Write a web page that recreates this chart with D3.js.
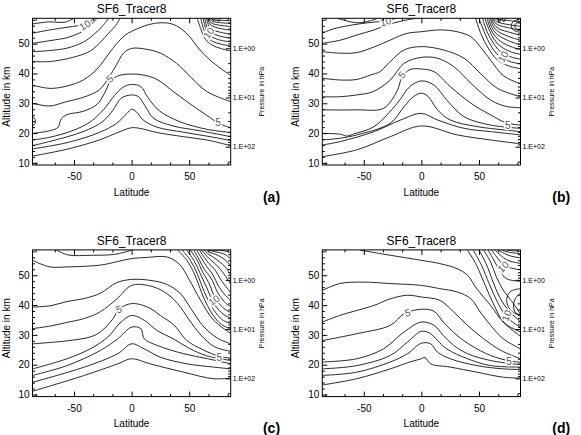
<!DOCTYPE html>
<html lang="en">
<head>
<meta charset="UTF-8">
<title>SF6_Tracer8</title>
<script src="https://d3js.org/d3.v7.min.js"></script>
<style>
  body { margin: 0; background: #fff; }
  text { font-family: "Liberation Sans", Arial, Helvetica, sans-serif; fill: #000; }
</style>
</head>
<body>
<script>
// ---- data (lat, altitude km) ----
const panelNames = ["(a)", "(b)", "(c)", "(d)"];
const titleText = "SF6_Tracer8";
const altTicks = [10, 20, 30, 40, 50];
const latTicks = [-50, 0, 50];
const pressTicks = [1, 10, 100];
const pressLabels = ["1.E+00", "1.E+01", "1.E+02"];

const linesA = [
  [[-86,12.3],[-56,14.6],[-28,17.7],[-10,20.5],[0,21.8],[7,21.6],[22,20.2],[45,18.8],[65,17.7],[86,15.8]],
  [[-86,14.7],[-56,16.8],[-28,20.2],[-13,23.3],[-4,26.6],[0,28.0],[4,27.2],[10,24.4],[22,22.0],[45,20.3],[71,18.6],[86,17.5]],
  [[-86,15.8],[-71,17.2],[-42,20.5],[-25,23.9],[-16,27.8],[-9,31.7],[0,32.8],[6,32.2],[12,28.9],[19,25.0],[36,22.4],[59,20.8],[86,18.8]],
  [[-86,17.7],[-71,18.6],[-50,21.0],[-35,24.0],[-24,28.0],[-15,32.5],[-7,35.5],[0,36.3],[8,35.6],[14,32.0],[24,27.5],[42,23.8],[65,21.3],[86,20.2]],
  [[-86,19.9],[-71,20.8],[-64,21.9],[-61,24.8],[-56,26.2],[-42,27.3],[-30,29.6],[-24,33.0],[-18,37.5],[-11,39.3],[0,39.8],[10,39.5],[22,38.0],[36,34.0],[50,30.0],[65,26.0],[76,23.2],[86,21.8]],
  [[-86,30.0],[-71,29.1],[-57,30.5],[-42,32.0],[-28,34.5],[-20,38.5],[-13,43.0],[-7,46.8],[0,48.4],[13,48.1],[25,46.8],[39,43.4],[52,38.5],[65,34.0],[86,30.5]],
  [[-86,36.1],[-71,35.0],[-56,35.8],[-42,37.8],[-30,41.5],[-20,46.5],[-13,50.0],[-5,53.0],[5,55.0],[15,56.4],[25,57.0],[35,56.6],[43,55.0],[50,52.5],[58,48.5],[68,44.5],[86,39.3]],
  [[-86,44.0],[-71,44.0],[-51,45.4],[-36,47.5],[-27,50.5],[-20,53.5],[-14,56.0],[-10,58.5]],
  [[-86,47.3],[-71,47.7],[-56,48.5],[-42,50.5],[-33,53.0],[-25,56.0],[-20,58.5]],
  [[-86,50.1],[-71,51.0],[-56,52.0],[-45,53.6],[-37,55.8],[-30,58.5]],
  [[-86,53.5],[-71,54.6],[-56,55.5],[-47,56.0],[-40,56.6],[-35,57.7],[-32,58.5]],
  [[-86,56.6],[-72,57.3],[-58,57.2],[-50,58.5]],
  [[-86,25.3],[-84.5,25.0],[-83.5,24.0],[-84.5,22.8],[-86,22.6]]
];
const clusterA = [
  [[57,58.5],[60,55],[64,51.5],[70,49.5],[78,48.3],[86,47.5]],
  [[60,58.5],[62,55.5],[65,52.5],[70,50.8],[78,49.8],[86,49.2]],
  [[62,58.5],[64,55.5],[67,53],[72,51.8],[79,51],[86,50.6]],
  [[63.5,58.5],[65.5,55.5],[68,54],[73,53],[80,52.2],[86,51.9]],
  [[65,58.5],[67,56],[70,54.8],[75,54],[86,53.2]],
  [[66,58.5],[68,56.5],[72,55.6],[78,55],[86,54.5]],
  [[67,58.5],[69,57],[73,56.4],[80,56],[86,55.7]],
  [[68,58.5],[70,57.5],[75,57.1],[86,56.8]],
  [[69,58.5],[72,57.9],[80,57.8],[86,57.7]],
  [[70,58.5],[71,57.6],[73,58.5]],
  [[74,58.5],[75.5,57.5],[77,58.5]]
];
const labelsA = [["10",-40.5,56.2,-30],["5",-19,38.2,-45],["5",75,23.4,0],["10",67,53.6,-55]];

const linesB = [
  [[-86,12.1],[-56,14.4],[-27,18.8],[0,22.4],[31,19.4],[60,17.7],[86,16.4]],
  [[-86,16.0],[-70,17.2],[-41,20.5],[-18,24.4],[0,26.6],[14,24.4],[37,21.6],[60,20.5],[86,19.4]],
  [[-86,17.7],[-70,18.3],[-56,19.4],[-27,23.3],[-15,28.9],[-7,32.2],[0,33.4],[6,32.2],[14,27.8],[25,24.4],[48,22.2],[71,21.1],[86,20.5]],
  [[-86,19.9],[-70,19.6],[-65,19.0],[-58,19.8],[-41,22.2],[-21,30.0],[-10,35.6],[0,37.5],[11,36.1],[22,31.1],[37,25.5],[60,22.7],[86,21.6]],
  [[-86,27.8],[-56,27.8],[-33,28.3],[-21,34.2],[-17,38.6],[-10,41.3],[0,41.5],[11,40.6],[25,35.6],[43,30.0],[60,26.1],[74,23.4],[86,22.7]],
  [[-86,32.2],[-71,32.2],[-56,32.8],[-42,33.9],[-27,37.8],[-15,43.4],[0,45.4],[14,45.1],[28,42.3],[43,36.7],[60,31.1],[73,29.0],[86,28.5]],
  [[-86,38.4],[-70,37.8],[-56,38.0],[-44,39.5],[-36,40.6],[-27,44.0],[-15,47.9],[0,49.0],[19,47.9],[37,45.1],[51,40.1],[66,35.0],[86,32.2]],
  [[-86,47.3],[-70,46.8],[-56,47.0],[-41,48.9],[-27,51.2],[-13,53.4],[0,54.0],[16,54.6],[31,54.0],[43,52.3],[51,49.0],[60,44.5],[71,39.3],[86,36.5]],
  [[-86,50.1],[-70,51.2],[-56,52.9],[-41,54.6],[-27,56.6],[-12,58.0],[-4,58.5]],
  [[-86,53.5],[-76,55.0],[-56,56.5],[-42,57.2],[-31,57.6],[-22,58.5]],
  [[-73,58.5],[-56,57.0],[-44,57.7],[-38,58.5]]
];
const clusterB = [
  [[47,58.5],[52,53],[58,48.5],[66,44.5],[76,42.5],[86,41.6]],
  [[50,58.5],[55,53.5],[60,49.5],[67,46],[77,44],[86,43.2]],
  [[53,58.5],[57,54],[62,50.5],[68,47.5],[78,45.5],[86,44.8]],
  [[55,58.5],[59,54.5],[63,51.5],[69,49],[78,47.2],[86,46.4]],
  [[57,58.5],[60,55],[64,52.5],[70,50.4],[79,48.8],[86,48]],
  [[58.5,58.5],[61,55.5],[65,53.3],[71,51.8],[80,50.3],[86,49.6]],
  [[60,58.5],[62,56],[66,54.2],[72,53],[80,51.8],[86,51.2]],
  [[61,58.5],[63,56.5],[67,55],[73,54.2],[86,52.8]],
  [[62,58.5],[64,57],[68,56],[75,55.4],[86,54.3]],
  [[63,58.5],[65,57.5],[70,56.8],[86,55.8]],
  [[64,58.5],[67,58],[75,57.8],[86,57.2]],
  [[86,58.2],[80,57.5],[78,56],[80,54.5],[86,53.8]],
  [[86,57.5],[82,56.8],[81,55.8],[82,55],[86,54.6]],
  [[66,58.5],[67.5,57],[69,58.5]],
  [[70,58.5],[71.5,57.3],[73,58.5]]
];
const labelsB = [["10",-31,57.4,-15],["5",-17,39.5,-50],["5",75,22.6,0],["10",71,45.6,-60]];

const linesC = [
  [[-86,11.1],[-41,16.4],[-12,20.3],[0,22.0],[16,20.3],[45,17.5],[71,15.3],[86,15.5]],
  [[-86,14.1],[-41,19.2],[-12,23.7],[0,27.0],[11,25.3],[25,22.5],[48,20.3],[71,19.2],[86,18.6]],
  [[-86,16.4],[-56,19.7],[-27,24.8],[-12,28.7],[0,32.6],[8,32.1],[11,28.7],[22,26.5],[45,23.7],[66,22.0],[86,20.3]],
  [[-86,18.6],[-56,22.0],[-35,25.5],[-20,29.5],[-10,34.0],[0,36.5],[11,34.9],[22,31.5],[37,28.5],[50,25.5],[65,23.0],[86,21.4]],
  [[-86,27.0],[-56,28.0],[-36,29.3],[-27,31.0],[-16,35.5],[-11,38.6],[0,40.5],[14,39.3],[25,36.5],[37,33.2],[48,28.1],[62,25.0],[76,22.8],[86,22.2]],
  [[-86,32.1],[-70,33.0],[-56,34.2],[-41,35.5],[-27,37.8],[-13,42.0],[0,46.6],[14,46.6],[28,44.5],[40,40.5],[50,35.0],[60,30.0],[72,26.0],[86,24.5]],
  [[-86,39.3],[-70,39.8],[-56,41.2],[-41,42.2],[-27,44.0],[-13,47.5],[0,48.6],[16,48.3],[30,47.0],[42,44.0],[52,38.5],[62,33.0],[74,29.0],[86,27.0]],
  [[-86,55.0],[-71,52.8],[-56,52.8],[-27,53.4],[-12,54.6],[0,55.6],[14,56.0],[31,56.1],[42,53.5],[50,48.5],[60,41.5],[71,35.0],[86,30.5]],
  [[-65,58.4],[-55,56.8],[-35,56.7],[-15,57.0],[0,58.4]]
];
const clusterC = [
  [[40,58.4],[48,55],[55,50],[62,43],[70,37],[78,33.5],[86,32.0]],
  [[44,58.4],[51,55],[57,50.5],[63,44.5],[71,38.5],[79,35],[86,33.8]],
  [[48,58.4],[54,55],[59,51],[65,46],[72,40.2],[80,36.8],[86,35.6]],
  [[51,58.4],[57,55],[61,51.5],[67,47.5],[73,42],[81,38.6],[86,37.5]],
  [[54,58.4],[59,55],[63,52],[69,49],[75,44],[82,40.5],[86,39.5]],
  [[56.5,58.4],[61,55.5],[65,53],[70,50.5],[76,46],[83,42.6],[86,41.7]],
  [[59,58.4],[63,56],[67,54],[72,52],[78,48.2],[86,44.2]],
  [[61,58.4],[65,56.5],[69,55],[74,53.3],[80,50.5],[86,47]],
  [[63,58.4],[67,57],[71,56],[76,54.6],[82,52.5],[86,50]],
  [[65,58.4],[69,57.5],[73,57],[78,56],[83,54.5],[86,52.8]],
  [[67,58.4],[71,58],[76,57.6],[81,57],[86,55.5]],
  [[70,58.4],[77,58.3],[83,58],[86,57.5]]
];
const labelsC = [["5",-11,38.6,-20],["5",76,22.3,0],["10",71.5,41.6,-35]];

const linesD = [
  [[-86,13.2],[-56,15.3],[-27,18.6],[-10,20.9],[0,22.0],[3,22.4],[8,20.3],[25,19.2],[48,17.5],[71,15.8],[86,15.5]],
  [[-86,16.4],[-56,17.5],[-27,20.9],[-12,23.7],[0,27.2],[8,27.0],[14,24.2],[25,22.0],[48,19.7],[71,18.6],[86,18.4]],
  [[-86,18.6],[-56,19.7],[-27,23.1],[-12,27.6],[0,31.2],[8,30.4],[14,28.1],[22,25.3],[40,22.0],[60,19.7],[86,19.2]],
  [[-86,20.9],[-56,22.0],[-33,25.3],[-15,31.0],[0,34.3],[11,33.2],[19,29.8],[28,26.5],[40,23.7],[60,21.4],[86,20.0]],
  [[-86,28.1],[-56,30.4],[-27,33.2],[-15,37.1],[0,38.6],[11,37.9],[19,34.3],[31,29.8],[43,26.5],[60,23.1],[76,21.3],[86,20.8]],
  [[-86,34.3],[-71,36.5],[-41,39.9],[-27,42.1],[-12,43.3],[0,42.7],[16,41.6],[28,37.7],[40,33.2],[54,28.7],[69,24.8],[86,22.0]],
  [[-86,44.9],[-71,47.2],[-50,47.7],[-27,47.2],[0,46.6],[16,45.5],[31,44.4],[43,42.1],[51,37.7],[60,33.2],[71,28.7],[86,25.3]],
  [[-53,58.4],[-27,56.7],[0,55.0],[16,53.9],[31,52.2],[40,50.0],[48,45.5],[60,39.9],[71,34.3],[86,29.5]]
];
const clusterD = [
  [[40,58.4],[47,54],[55,47],[63,40],[72,34],[86,31]],
  [[45,58.4],[52,53.5],[59,47],[66,41],[74,36],[86,32.5]],
  [[50,58.4],[56,54],[62,48],[68,42.5],[76,38],[86,34.5]],
  [[54,58.4],[60,54.5],[65,49.5],[71,45],[78,41.5],[86,37]],
  [[58,58.4],[63,55],[68,51.5],[74,48.8],[86,48.0]],
  [[61,58.4],[66,55.8],[71,53.5],[77,52.5],[86,51.8]],
  [[64,58.4],[69,56.6],[74,55.2],[80,54.4],[86,54]],
  [[67,58.4],[72,57.3],[77,56.5],[86,55.8]],
  [[70,58.4],[75,57.8],[86,57.2]],
  [[74,58.4],[80,58.2],[86,58]],
  [[86,45.5],[77,44.5],[74,41.5],[77,38.5],[86,36.2]],
  [[86,44],[82,42.5],[80,40],[81.5,37.5],[86,36.8]]
];
const labelsD = [["5",-12,37.4,-10],["5",76,21.1,0],["10",71,52.8,-45],["10",74,36.5,-70]];

const panels = [
  {name: panelNames[0], lines: linesA.concat(clusterA), labels: labelsA, dx: 0, dy: 0},
  {name: panelNames[1], lines: linesB.concat(clusterB), labels: labelsB, dx: 289.8, dy: 0},
  {name: panelNames[2], lines: linesC.concat(clusterC), labels: labelsC, dx: 0, dy: 231.6},
  {name: panelNames[3], lines: linesD.concat(clusterD), labels: labelsD, dx: 289.8, dy: 231.6}
];

// ---- layout ----
const W = 581, H = 435;
const plotLeft = 32.5, plotTop = 18.3, pw = 198.2, ph = 146.7;

const svg = d3.select("body").append("svg")
  .attr("width", W).attr("height", H);

const x = d3.scaleLinear().domain([-86, 86]).range([0, pw]);
const y = d3.scaleLinear().domain([9.3, 58.5]).range([ph, 0]);
const p = d3.scaleLog().domain([235, 0.246]).range([ph, 0]);

const line = d3.line()
  .x(d => x(d[0])).y(d => y(d[1]))
  .curve(d3.curveCatmullRom.alpha(0.5));

const minorAlt = d3.range(10, 59, 2).filter(v => v % 10 !== 0);
const minorLat = [-83.33, -66.67, -33.33, -16.67, 16.67, 33.33, 66.67, 83.33];
const minorP = [];
[0.1, 1, 10, 100].forEach(dec => d3.range(2, 10).forEach(k => {
  const v = dec * k;
  if (v > 0.246 && v < 235) minorP.push(v);
}));

panels.forEach((pan, i) => {
  const g = svg.append("g")
    .attr("transform", `translate(${plotLeft + pan.dx},${plotTop + pan.dy})`);

  g.append("clipPath").attr("id", "clip" + i)
    .append("rect").attr("width", pw).attr("height", ph);

  const plot = g.append("g").attr("clip-path", `url(#clip${i})`);
  plot.selectAll("path.c")
    .data(pan.lines)
    .enter().append("path")
    .attr("class", "c")
    .attr("d", line)
    .attr("fill", "none")
    .attr("stroke", "#111")
    .attr("stroke-width", 0.9);

  plot.selectAll("text.lab")
    .data(pan.labels)
    .enter().append("text")
    .attr("class", "lab")
    .attr("transform", d => `translate(${x(d[1])},${y(d[2])}) rotate(${d[3]})`)
    .attr("text-anchor", "middle")
    .attr("dominant-baseline", "central")
    .style("font-size", "10px")
    .style("fill", "#555")
    .style("stroke", "#fff")
    .style("stroke-width", 3)
    .style("paint-order", "stroke")
    .text(d => d[0]);

  // frame
  g.append("rect").attr("width", pw).attr("height", ph)
    .attr("fill", "none").attr("stroke", "#000").attr("stroke-width", 1);

  // left axis
  const ly = g.append("g").call(d3.axisLeft(y).tickValues(altTicks).tickSize(-5).tickPadding(3));
  ly.select(".domain").remove();
  ly.selectAll("text").style("font-size", "10px");
  g.append("g").call(d3.axisLeft(y).tickValues(minorAlt).tickSize(-2.5).tickFormat(""))
    .select(".domain").remove();

  // bottom axis + top mirror (plain hyphen for negatives, as in the source)
  const bx = g.append("g").attr("transform", `translate(0,${ph})`)
    .call(d3.axisBottom(x).tickValues(latTicks).tickSize(-5).tickPadding(8)
      .tickFormat(d => String(d)));
  bx.select(".domain").remove();
  bx.selectAll("text").style("font-size", "10px");
  g.append("g").attr("transform", `translate(0,${ph})`)
    .call(d3.axisBottom(x).tickValues(minorLat).tickSize(-2.5).tickFormat(""))
    .select(".domain").remove();
  g.append("g").call(d3.axisTop(x).tickValues(latTicks).tickSize(-5).tickFormat(""))
    .select(".domain").remove();
  g.append("g").call(d3.axisTop(x).tickValues(minorLat).tickSize(-2.5).tickFormat(""))
    .select(".domain").remove();

  // right pressure axis
  const ry = g.append("g").attr("transform", `translate(${pw},0)`)
    .call(d3.axisRight(p).tickValues(pressTicks).tickSize(-5).tickPadding(2)
      .tickFormat((d, k) => pressLabels[k]));
  ry.select(".domain").remove();
  ry.selectAll("text").style("font-size", "7px");
  g.append("g").attr("transform", `translate(${pw},0)`)
    .call(d3.axisRight(p).tickValues(minorP).tickSize(-2.5).tickFormat(""))
    .select(".domain").remove();

  // titles
  g.append("text").attr("x", pw / 2).attr("y", -9)
    .attr("text-anchor", "middle").attr("dominant-baseline", "central")
    .style("font-size", "12px").text(titleText);
  g.append("text").attr("x", pw / 2).attr("y", ph + 27.3)
    .attr("text-anchor", "middle").attr("dominant-baseline", "central")
    .style("font-size", "10px").text("Latitude");
  g.append("text").attr("transform", `translate(-26.5,${ph / 2 + 5}) rotate(-90)`)
    .attr("text-anchor", "middle").attr("dominant-baseline", "central")
    .style("font-size", "10px").text("Altitude in km");
  g.append("text").attr("transform", `translate(${pw + 31},${ph / 2}) rotate(-90)`)
    .attr("text-anchor", "middle").attr("dominant-baseline", "central")
    .style("font-size", "7px").text("Pressure in hPa");
  g.append("text").attr("x", 239).attr("y", 178.4)
    .attr("text-anchor", "middle").attr("dominant-baseline", "central")
    .style("font-size", "14px").style("font-weight", "bold").text(pan.name);
});
</script>
</body>
</html>
